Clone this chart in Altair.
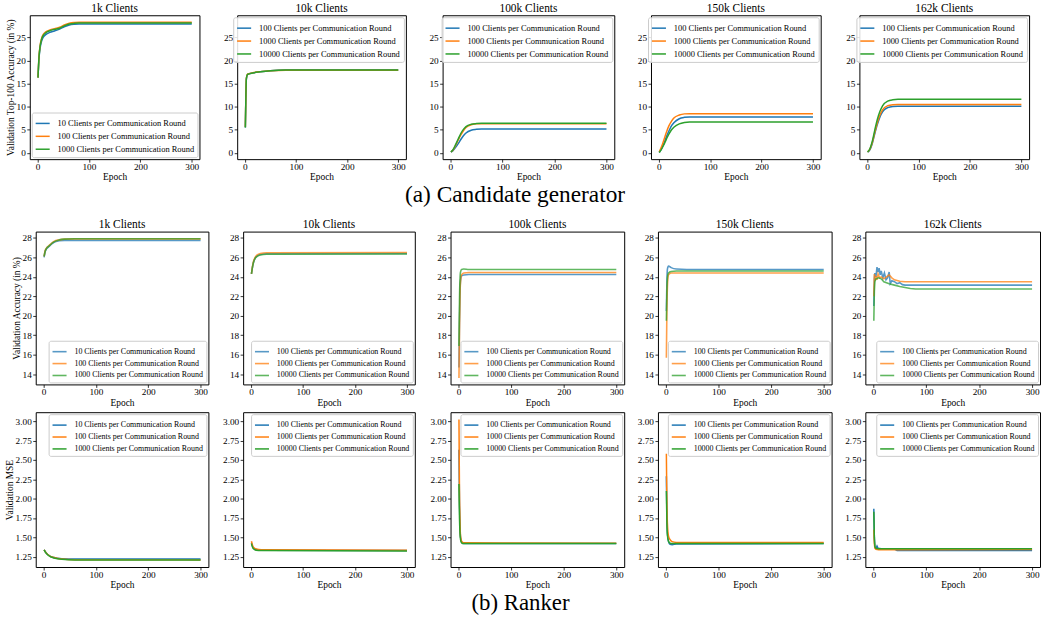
import altair as alt
import pandas as pd

FONT = "Liberation Serif"
COLORS = ["#1f77b4", "#ff7f0e", "#2ca02c"]

TITLES = ["1k Clients", "10k Clients", "100k Clients", "150k Clients", "162k Clients"]
LABELS_1K = ["10 Clients per Communication Round",
             "100 Clients per Communication Round",
             "1000 Clients per Communication Round"]
LABELS_REST = ["100 Clients per Communication Round",
               "1000 Clients per Communication Round",
               "10000 Clients per Communication Round"]
X_TICKS = [0, 100, 200, 300]
YTICKS_A = [0, 5, 10, 15, 20, 25]
YTICKS_B = [14, 16, 18, 20, 22, 24, 26, 28]
YTICKS_C = [1.25, 1.5, 1.75, 2.0, 2.25, 2.5, 2.75, 3.0]

# ---------------- (a) Candidate generator: validation top-100 accuracy ----------------
A1K_EP = [1, 3, 5, 8, 11, 16, 24, 33, 43, 52, 62, 72, 81, 100, 300]
A1K_S1 = [16.3, 20.5, 22.6, 24.2, 25.0, 25.6, 26.1, 26.4, 26.8, 27.3, 27.7, 27.85, 27.9, 27.9, 27.9]
A1K_S2 = [16.3, 21.0, 23.2, 24.8, 25.6, 26.2, 26.6, 26.9, 27.2, 27.7, 28.1, 28.25, 28.3, 28.3, 28.3]
A1K_S3 = [16.3, 20.8, 23.0, 24.6, 25.4, 26.0, 26.45, 26.75, 27.0, 27.5, 27.9, 28.05, 28.1, 28.1, 28.1]

A10K_EP = [1, 2, 3, 5, 8, 15, 30, 50, 80, 300]
A10K_S1 = [5.5, 12.0, 16.0, 16.9, 17.1, 17.3, 17.55, 17.8, 17.95, 17.95]
A10K_S2 = [5.6, 12.5, 16.2, 17.0, 17.15, 17.35, 17.6, 17.8, 17.9, 17.9]
A10K_S3 = [5.5, 12.2, 16.1, 16.95, 17.1, 17.3, 17.55, 17.8, 17.95, 17.95]

AS_EP = [1, 5, 10, 15, 20, 25, 30, 40, 50, 60, 300]
A100K_S1 = [0.2, 0.5, 1.2, 2.0, 2.9, 3.7, 4.3, 4.9, 5.1, 5.2, 5.2]
A100K_S2 = [0.2, 0.6, 1.6, 2.8, 3.9, 4.8, 5.5, 6.1, 6.3, 6.3, 6.3]
A100K_S3 = [0.2, 0.7, 1.8, 3.0, 4.2, 5.1, 5.7, 6.2, 6.35, 6.4, 6.4]

A150K_S1 = [0.1, 0.8, 2.0, 3.5, 4.8, 5.9, 6.6, 7.4, 7.7, 7.8, 7.8]
A150K_S2 = [0.2, 1.2, 2.8, 4.5, 5.9, 6.9, 7.6, 8.2, 8.45, 8.5, 8.5]
A150K_S3 = [0.1, 0.7, 1.8, 3.0, 4.1, 5.0, 5.6, 6.3, 6.6, 6.7, 6.7]

A162K_S1 = [0.2, 0.6, 2.0, 4.2, 6.2, 7.8, 8.9, 9.8, 10.05, 10.1, 10.1]
A162K_S2 = [0.2, 0.7, 2.2, 4.5, 6.6, 8.2, 9.3, 10.2, 10.45, 10.5, 10.5]
A162K_S3 = [0.2, 0.8, 2.5, 5.0, 7.3, 9.0, 10.2, 11.2, 11.5, 11.6, 11.6]

# ---------------- (b) Ranker: validation accuracy ----------------
B1K_EP = [1, 3, 6, 10, 15, 20, 30, 40, 60, 300]
B1K_S1 = [26.0, 26.6, 26.9, 27.1, 27.35, 27.55, 27.7, 27.75, 27.75, 27.75]
B1K_S2 = [26.1, 26.7, 27.0, 27.2, 27.45, 27.65, 27.8, 27.88, 27.9, 27.9]
B1K_S3 = [26.1, 26.6, 26.95, 27.15, 27.4, 27.6, 27.8, 27.88, 27.92, 27.92]

B10K_EP = [1, 3, 5, 8, 12, 18, 30, 300]
B10K_S1 = [24.3, 25.0, 25.5, 25.9, 26.15, 26.3, 26.38, 26.4]
B10K_S2 = [24.3, 25.1, 25.6, 26.0, 26.25, 26.4, 26.48, 26.5]
B10K_S3 = [24.3, 25.0, 25.5, 25.9, 26.1, 26.25, 26.32, 26.35]

B100K_EP = [1, 2, 3, 4, 6, 10, 20, 300]
B100K_S1 = [14.7, 19.5, 22.5, 23.6, 24.1, 24.2, 24.25, 24.25]
B100K_S2 = [13.6, 18.5, 22.0, 23.5, 24.2, 24.4, 24.45, 24.45]
B100K_S3 = [16.9, 21.5, 23.8, 24.5, 24.75, 24.8, 24.75, 24.75]

B150K_EP = [1, 2, 3, 5, 10, 20, 40, 300]
B150K_S1 = [20.5, 23.5, 24.8, 25.1, 24.95, 24.8, 24.75, 24.75]
B150K_S2 = [15.7, 20.5, 23.0, 24.2, 24.4, 24.4, 24.4, 24.4]
B150K_S3 = [19.5, 22.5, 23.9, 24.4, 24.55, 24.6, 24.6, 24.6]

B162K_EP1 = [1, 2, 3, 5, 7, 9, 11, 13, 15, 18, 21, 24, 27, 30, 32, 35, 40, 45, 50, 55, 60, 300]
B162K_S1 = [21.0, 23.8, 24.4, 24.0, 25.0, 24.5, 24.9, 24.2, 24.6, 23.9, 24.4, 23.7, 23.9, 24.5,
            23.3, 23.6, 23.5, 23.3, 23.4, 23.2, 23.15, 23.15]
B162K_EP2 = [1, 2, 3, 5, 7, 9, 12, 15, 20, 25, 30, 35, 40, 50, 60, 300]
B162K_S2 = [22.0, 24.3, 23.6, 24.1, 23.7, 24.3, 23.9, 24.0, 23.8, 24.0, 24.2, 23.9, 23.7, 23.55, 23.5, 23.5]
B162K_EP3 = [1, 2, 3, 5, 10, 15, 20, 30, 40, 50, 60, 70, 80, 300]
B162K_S3 = [19.5, 22.5, 23.5, 23.8, 23.9, 23.8, 23.5, 23.3, 23.15, 23.0, 22.9, 22.8, 22.75, 22.75]

# ---------------- (b) Ranker: validation MSE ----------------
C1K_EP = [1, 5, 12, 20, 35, 60, 300]
C1K_S1 = [1.34, 1.30, 1.26, 1.24, 1.225, 1.22, 1.22]
C1K_S2 = [1.34, 1.30, 1.26, 1.24, 1.22, 1.212, 1.21]
C1K_S3 = [1.34, 1.295, 1.255, 1.235, 1.218, 1.21, 1.21]

C10K_EP = [1, 4, 10, 20, 300]
C10K_S1 = [1.43, 1.37, 1.345, 1.335, 1.33]
C10K_S2 = [1.45, 1.38, 1.35, 1.34, 1.335]
C10K_S3 = [1.42, 1.36, 1.335, 1.33, 1.325]

C100K_EP = [1, 2, 3, 4, 6, 10, 300]
C100K_S1 = [2.63, 1.95, 1.65, 1.5, 1.44, 1.42, 1.42]
C100K_S2 = [3.02, 2.1, 1.7, 1.52, 1.45, 1.43, 1.425]
C100K_S3 = [2.19, 1.75, 1.55, 1.47, 1.43, 1.42, 1.42]

C150K_EP = [1, 2, 3, 5, 8, 12, 20, 300]
C150K_S1 = [2.29, 1.75, 1.55, 1.45, 1.41, 1.405, 1.415, 1.42]
C150K_S2 = [2.58, 1.95, 1.68, 1.52, 1.47, 1.445, 1.435, 1.435]
C150K_S3 = [2.1, 1.7, 1.53, 1.45, 1.425, 1.42, 1.42, 1.42]

C162K_EP1 = [1, 2, 3, 5, 7, 9, 15, 40, 45, 300]
C162K_S1 = [1.87, 1.5, 1.37, 1.36, 1.39, 1.36, 1.355, 1.35, 1.33, 1.33]
C162K_EP2 = [1, 2, 3, 5, 10, 300]
C162K_S2 = [1.6, 1.42, 1.36, 1.345, 1.34, 1.345]
C162K_EP3 = [1, 2, 3, 5, 10, 300]
C162K_S3 = [1.83, 1.5, 1.38, 1.36, 1.355, 1.355]


def panel(title, series, labels, ydom, yticks, yfmt, ytitle, lorient, width, height,
          extent, opacity, sw, interp, tpad, lfs):
    rows = []
    for k, (lab, (eps, vals)) in enumerate(zip(labels, series)):
        for e, v in zip(eps, vals):
            rows.append({"Epoch": e, "value": v, "series": lab, "k": k})
    df = pd.DataFrame(rows)
    yaxis = alt.Axis(values=yticks, format=yfmt, title=ytitle if ytitle else None,
                     minExtent=extent, maxExtent=extent, titlePadding=tpad)
    legend = alt.Legend(orient=lorient, title=None, offset=2, padding=3,
                        strokeColor="#cccccc", fillColor="rgba(255,255,255,0.85)",
                        cornerRadius=2, labelFont=FONT, labelFontSize=lfs, labelColor="black",
                        symbolType="stroke", symbolStrokeWidth=sw, symbolOpacity=opacity,
                        symbolSize=200, rowPadding=-3, labelOffset=7, labelLimit=400)
    return alt.Chart(df).mark_line(interpolate=interp, strokeWidth=sw, opacity=opacity,
                                   clip=True).encode(
        x=alt.X("Epoch:Q", scale=alt.Scale(domain=[-15, 315], nice=False, zero=False),
                axis=alt.Axis(values=X_TICKS, title="Epoch")),
        y=alt.Y("value:Q", scale=alt.Scale(domain=ydom, nice=False, zero=False), axis=yaxis),
        color=alt.Color("series:N", scale=alt.Scale(domain=labels, range=COLORS), legend=legend),
        order=alt.Order("k:Q"),
    ).properties(width=width, height=height, title=title)


def spacer(w, h):
    # empty, invisible leading cell that only sets the row's left margin
    return alt.Chart(pd.DataFrame({"z": [0]})).mark_point(opacity=0, size=0).encode(
        x=alt.value(0), y=alt.value(0)
    ).properties(width=w, height=h, view=alt.ViewBackground(stroke="transparent"))


def indep(c):
    return c.resolve_scale(color="independent", x="independent", y="independent").resolve_legend(
        color="independent")


A_SERIES = [
    [(A1K_EP, A1K_S1), (A1K_EP, A1K_S2), (A1K_EP, A1K_S3)],
    [(A10K_EP, A10K_S1), (A10K_EP, A10K_S2), (A10K_EP, A10K_S3)],
    [(AS_EP, A100K_S1), (AS_EP, A100K_S2), (AS_EP, A100K_S3)],
    [(AS_EP, A150K_S1), (AS_EP, A150K_S2), (AS_EP, A150K_S3)],
    [(AS_EP, A162K_S1), (AS_EP, A162K_S2), (AS_EP, A162K_S3)],
]
B_SERIES = [
    [(B1K_EP, B1K_S1), (B1K_EP, B1K_S2), (B1K_EP, B1K_S3)],
    [(B10K_EP, B10K_S1), (B10K_EP, B10K_S2), (B10K_EP, B10K_S3)],
    [(B100K_EP, B100K_S1), (B100K_EP, B100K_S2), (B100K_EP, B100K_S3)],
    [(B150K_EP, B150K_S1), (B150K_EP, B150K_S2), (B150K_EP, B150K_S3)],
    [(B162K_EP1, B162K_S1), (B162K_EP2, B162K_S2), (B162K_EP3, B162K_S3)],
]
C_SERIES = [
    [(C1K_EP, C1K_S1), (C1K_EP, C1K_S2), (C1K_EP, C1K_S3)],
    [(C10K_EP, C10K_S1), (C10K_EP, C10K_S2), (C10K_EP, C10K_S3)],
    [(C100K_EP, C100K_S1), (C100K_EP, C100K_S2), (C100K_EP, C100K_S3)],
    [(C150K_EP, C150K_S1), (C150K_EP, C150K_S2), (C150K_EP, C150K_S3)],
    [(C162K_EP1, C162K_S1), (C162K_EP2, C162K_S2), (C162K_EP3, C162K_S3)],
]

A_W = [171, 170, 173, 171, 171]
A_EXT = [14.5, 36, 35, 35, 37]
B_EXT = [14, 33, 34, 32, 32]
C_EXT = [21, 33, 34, 32, 32]
BC_W = [174, 173, 175, 175, 176]

row_a = [spacer(2, 145)]
for i in range(5):
    row_a.append(panel(TITLES[i], A_SERIES[i], LABELS_1K if i == 0 else LABELS_REST,
                       [-1.35, 29.8], YTICKS_A, "d",
                       "Validation Top-100 Accuracy (in %)" if i == 0 else "",
                       "bottom-right" if i == 0 else "top-right",
                       A_W[i], 145, A_EXT[i], 1.0, 1.5, "monotone", 0, 8.5))
row_b = [spacer(9, 154)]
for i in range(5):
    row_b.append(panel(TITLES[i], B_SERIES[i], LABELS_1K if i == 0 else LABELS_REST,
                       [12.95, 28.65], YTICKS_B, "d",
                       "Validation Accuracy (in %)" if i == 0 else "",
                       "bottom-right", BC_W[i], 154, B_EXT[i], 0.75, 1.6,
                       "linear" if i == 4 else "monotone", 0.5, 8.0))
row_c = [spacer(2, 156)]
for i in range(5):
    row_c.append(panel("", C_SERIES[i], LABELS_1K if i == 0 else LABELS_REST,
                       [1.118, 3.115], YTICKS_C, ".2f",
                       "Validation MSE" if i == 0 else "",
                       "top-right", BC_W[i], 156, C_EXT[i], 1.0, 1.5,
                       "linear" if i == 4 else "monotone", 0.5, 8.0))

cap_a = alt.TitleParams("(a) Candidate generator", orient="bottom", anchor="middle",
                        fontSize=23.5, font=FONT, fontWeight="normal", offset=1, color="black")
cap_b = alt.TitleParams("(b) Ranker", orient="bottom", anchor="middle",
                        fontSize=23, font=FONT, fontWeight="normal", offset=3, color="black")

block_a = indep(alt.hconcat(*row_a, spacing=0, title=cap_a))
block_b = indep(alt.vconcat(indep(alt.hconcat(*row_b, spacing=0)),
                            indep(alt.hconcat(*row_c, spacing=0)),
                            spacing=4, title=cap_b))

chart = indep(alt.vconcat(block_a, block_b, spacing=12)).properties(
    padding={"left": 0, "top": 0, "right": 0, "bottom": 0}
).configure(font=FONT).configure_view(
    stroke="black", strokeWidth=1
).configure_axis(
    domain=False, grid=False, tickColor="black", tickSize=3, tickWidth=0.8,
    labelFont=FONT, labelFontSize=9.3, labelColor="black", labelPadding=1.5,
    labelFlush=False, titleFont=FONT, titleFontSize=9.5, titleFontWeight="normal",
    titleColor="black", titlePadding=1
).configure_axisX(
    labelPadding=0.5, titlePadding=0
).configure_title(
    font=FONT, fontSize=11.5, fontWeight="normal", color="black", offset=1
)

chart.save("out.html", embed_options={"renderer": "svg", "actions": False})
